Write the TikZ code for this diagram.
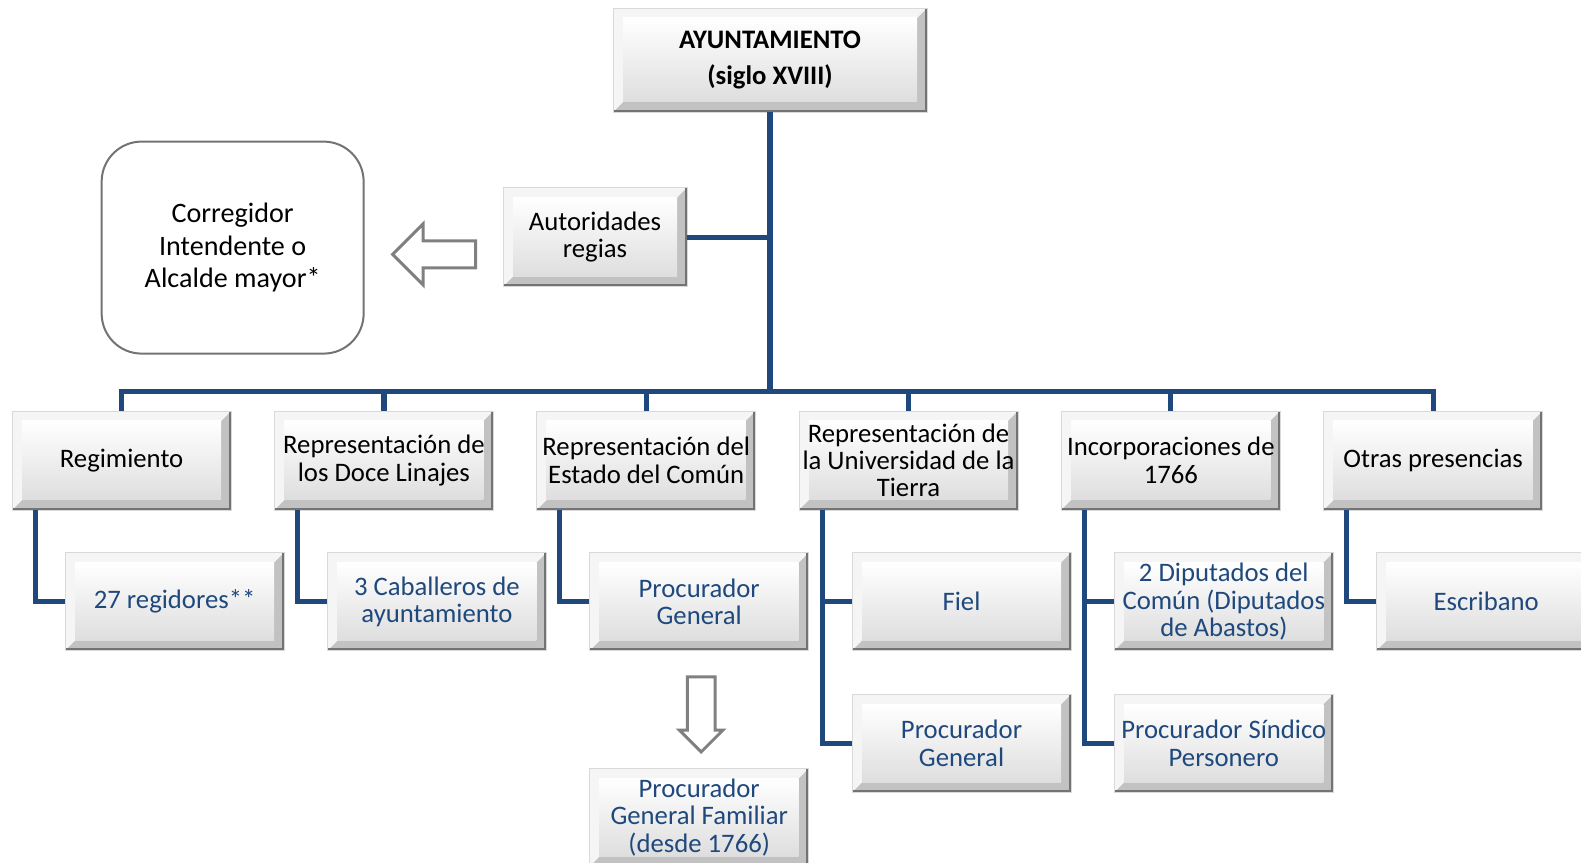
\documentclass[tikz,border=0pt]{standalone}
\usepackage{fontspec}
\setmainfont{Carlito}
\usetikzlibrary{positioning,calc,shapes.arrows}
\definecolor{linkblue}{RGB}{31,73,125}

\begin{document}
\begin{tikzpicture}[
    node distance=1.05cm and 1.065cm,
    every node/.style={font=\fontsize{19}{19.5}\selectfont},
    bevel/.style={rectangle, draw=black!15, line width=0.5pt, align=center, inner sep=1pt,
      minimum width=5.475cm, minimum height=2.45cm,
      path picture={
        \fill[black!24] (path picture bounding box.south west) rectangle (path picture bounding box.north east);
        \fill[black!4] (path picture bounding box.south west) -- (path picture bounding box.north west)
          -- (path picture bounding box.north east) -- ([shift={(-0.25,-0.25)}]path picture bounding box.north east)
          -- ([shift={(0.25,0.25)}]path picture bounding box.south west) -- cycle;
        \shade[top color=white, bottom color=black!13] ([shift={(0.25,0.25)}]path picture bounding box.south west)
          rectangle ([shift={(-0.25,-0.25)}]path picture bounding box.north east);
        \draw[black!55, line width=0.12cm] (path picture bounding box.south west)
          -- (path picture bounding box.south east) -- (path picture bounding box.north east);
      }},
    head/.style={bevel, minimum width=7.85cm, minimum height=2.6cm, font=\fontsize{19}{26}\selectfont\bfseries},
    branch/.style={bevel, minimum height=2.475cm},
    member/.style={bevel, text=linkblue},
    note/.style={draw=black!55, line width=0.05cm, rounded corners=1cm, fill=white,
      minimum width=6.55cm, minimum height=5.3cm, align=center, font=\fontsize{20}{23}\selectfont},
    hollow/.style={single arrow, draw=black!50, line width=0.075cm, fill=white, inner xsep=0pt},
    link/.style={linkblue, line width=0.13cm},
  ]
    \useasboundingbox (0,0) rectangle (39.525,-21.575);
    \clip (0,0) rectangle (39.525,-21.575);

    % Ayuntamiento and royal authorities
    \node[head] (ayto) at (19.25,-1.5) {AYUNTAMIENTO\\(siglo XVIII)};
    \node[branch, minimum width=4.6cm, below=1.875cm of ayto, xshift=-4.375cm] (autor) {Autoridades\\regias};
    \node[note, left=3.45cm of autor, yshift=-0.26cm] (correg) {Corregidor\\Intendente o\\Alcalde mayor*};
    \node[hollow, inner ysep=0.3cm, single arrow head extend=0.425cm, minimum height=2.075cm, rotate=180]
      (tocorreg) at ($(correg.east)!0.5!(autor.west)+(0.18,-0.3)$) {};

    % Bodies of the council
    \node[branch] (regim) at (3.04,-11.51) {Regimiento};
    \node[branch, right=of regim] (linajes) {Representación de\\los Doce Linajes};
    \node[branch, right=of linajes] (comun) {Representación del\\Estado del Común};
    \node[branch, right=of comun] (univ) {Representación de\\la Universidad de la\\Tierra};
    \node[branch, right=of univ] (incorp) {Incorporaciones de\\1766};
    \node[branch, right=of incorp] (otras) {Otras presencias};

    % Offices
    \node[member, below=1.05cm of regim, xshift=1.325cm] (regid) {27 regidores**};
    \node[member, below=1.05cm of linajes, xshift=1.325cm] (caball) {3 Caballeros de\\ayuntamiento};
    \node[member, below=1.05cm of comun, xshift=1.325cm] (procgen) {Procurador\\General};
    \node[member, below=1.05cm of univ, xshift=1.325cm] (fiel) {Fiel};
    \node[member, below=1.05cm of incorp, xshift=1.325cm] (diput) {2 Diputados del\\Común (Diputados\\de Abastos)};
    \node[member, below=1.05cm of otras, xshift=1.325cm] (escrib) {Escribano};
    \node[member, below=1.075cm of fiel] (univproc) {Procurador\\General};
    \node[member, below=1.075cm of diput] (sindico) {Procurador Síndico\\Personero};
    \node[member, below=2.925cm of procgen] (pgfam) {Procurador\\General Familiar\\(desde 1766)};
    \node[hollow, inner ysep=0.31cm, single arrow head extend=0.2cm, minimum height=1.875cm, rotate=-90]
      (topgfam) at ($(procgen.south)!0.5!(pgfam.north)+(0.05,0.05)$) {};

    % Connectors
    \draw[link] (ayto.south) -- ++(0,-6.975) coordinate (hub);
    \draw[link] (autor.east) -- (autor.east -| hub);
    \draw[link] (regim.north) |- (hub) -| (otras.north);
    \foreach \b in {linajes,comun,univ,incorp}
      \draw[link] (\b.north) -- (\b.north |- hub);
    \foreach \p/\c in {regim/regid,linajes/caball,comun/procgen,univ/fiel,univ/univproc,
                       incorp/diput,incorp/sindico,otras/escrib}
      \draw[link] ([xshift=-2.16cm]\p.south) |- (\c.west);
  \end{tikzpicture}
\end{document}
